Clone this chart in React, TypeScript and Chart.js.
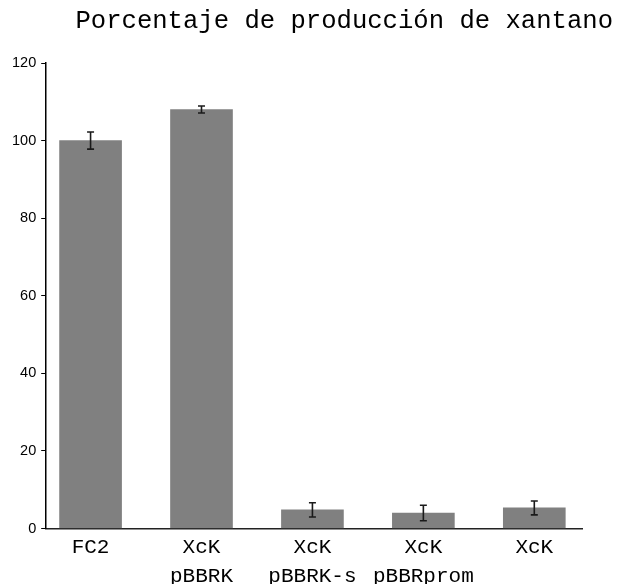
import React, { useEffect, useRef } from "react";
import { Chart, registerables } from "chart.js";

Chart.register(...registerables);

// Strains on the x axis (multi-line labels)
const categories: string[][] = [
  ["FC2"],
  ["XcK", "pBBRK"],
  ["XcK", "pBBRK-s"],
  ["XcK", "pBBRprom"],
  ["XcK"],
];

// Xanthan production, % relative to FC2
const production: number[] = [100, 108, 4.8, 4.0, 5.3];

// Standard deviation of each measurement
const deviation: number[] = [2.2, 0.9, 1.85, 2.0, 1.8];

const yTicks: number[] = [0, 20, 40, 60, 80, 100, 120];

const titleText = "Porcentaje de producción de xantano";

const errorBarPlugin = {
  id: "errorBars",
  afterDatasetsDraw(chart: any) {
    const { ctx, scales } = chart;
    const xs = scales.x;
    const ys = scales.y;
    ctx.save();
    ctx.strokeStyle = "#1a1a1a";
    ctx.lineWidth = 1.6;
    const cap = 3.5;
    production.forEach((v, i) => {
      const x = xs.getPixelForValue(i);
      const yTop = ys.getPixelForValue(v + deviation[i]);
      const yBot = ys.getPixelForValue(v - deviation[i]);
      ctx.beginPath();
      ctx.moveTo(x, yTop);
      ctx.lineTo(x, yBot);
      ctx.moveTo(x - cap, yTop);
      ctx.lineTo(x + cap, yTop);
      ctx.moveTo(x - cap, yBot);
      ctx.lineTo(x + cap, yBot);
      ctx.stroke();
    });
    ctx.restore();
  },
};

const titlePlugin = {
  id: "monoTitle",
  afterDraw(chart: any) {
    const { ctx, width } = chart;
    ctx.save();
    ctx.font = "25.6px 'Liberation Mono', monospace";
    ctx.fillStyle = "#000";
    ctx.textAlign = "right";
    ctx.textBaseline = "alphabetic";
    ctx.fillText(titleText, width - 6, 28);
    ctx.restore();
  },
};

export default function App() {
  const canvasRef = useRef<HTMLCanvasElement | null>(null);

  useEffect(() => {
    if (!canvasRef.current) return;
    const chart = new Chart(canvasRef.current, {
      type: "bar",
      data: {
        datasets: [
          {
            data: production.map((v, i) => ({ x: i, y: v })),
            backgroundColor: "#808080",
            borderWidth: 0,
            barThickness: 62,
          },
        ],
      },
      options: {
        animation: false,
        responsive: true,
        maintainAspectRatio: false,
        layout: { padding: { top: 63, left: 7, right: 37, bottom: 0 } },
        plugins: {
          legend: { display: false },
          title: { display: false },
          tooltip: { enabled: false },
        },
        scales: {
          x: {
            type: "linear",
            offset: false,
            min: -0.4,
            max: 4.43,
            afterBuildTicks: (scale: any) => {
              scale.ticks = categories.map((_, i) => ({ value: i }));
            },
            afterFit: (scale: any) => {
              scale.height = 55.5;
            },
            grid: { display: false, drawTicks: false, offset: false },
            border: { display: true, color: "#222", width: 1.6 },
            ticks: {
              padding: 4,
              color: "#000",
              maxRotation: 0,
              autoSkip: false,
              font: { family: "'Liberation Mono', monospace", size: 21, lineHeight: 1.38 },
              callback: (value: any) => categories[Math.round(Number(value))] ?? "",
            },
          },
          y: {
            min: 0,
            max: 120,
            afterBuildTicks: (scale: any) => {
              scale.ticks = yTicks.map((v) => ({ value: v }));
            },
            grid: {
              display: true,
              drawOnChartArea: false,
              drawTicks: true,
              tickLength: 5,
              color: "#000",
              lineWidth: 1,
            },
            border: { display: true, color: "#000", width: 1.5 },
            ticks: {
              padding: 5,
              color: "#000",
              font: { family: "'Liberation Sans', Arial, sans-serif", size: 14.5 },
            },
          },
        },
      },
      plugins: [errorBarPlugin, titlePlugin],
    });
    return () => chart.destroy();
  }, []);

  return (
    <div style={{ position: "absolute", left: 0, top: 0, width: 619, height: 584, background: "#fff" }}>
      <canvas ref={canvasRef} />
    </div>
  );
}
